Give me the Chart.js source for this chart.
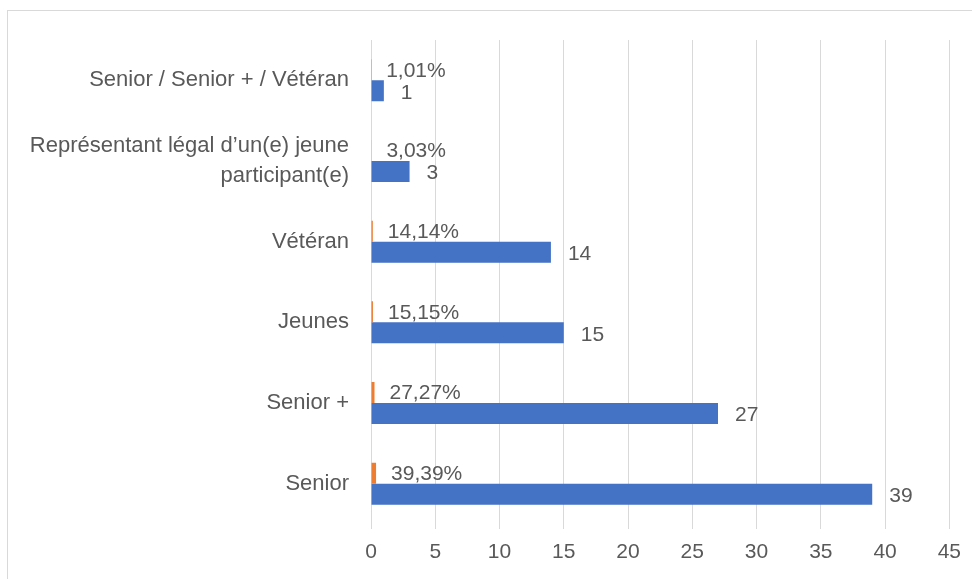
<!DOCTYPE html>
<html>
<head>
<meta charset="utf-8">
<script src="https://cdn.jsdelivr.net/npm/chart.js@4/dist/chart.umd.min.js"></script>
<style>
html,body{margin:0;padding:0;background:#fff;}
#wrap{position:relative;width:972px;height:579px;}
</style>
</head>
<body>
<div id="wrap"><canvas id="c" width="972" height="579"></canvas></div>
<script>
const categories = [
  "Senior / Senior + / Vétéran",
  ["Représentant légal d’un(e) jeune", "participant(e)"],
  "Vétéran",
  "Jeunes",
  "Senior +",
  "Senior"
];
const counts = [1, 3, 14, 15, 27, 39];
const shares = [0.0101, 0.0303, 0.1414, 0.1515, 0.2727, 0.3939];
const xMin = 0, xMax = 45, xStep = 5;

const FONT = "'Liberation Sans', Arial, sans-serif";
const TEXT = '#595959';

const borderPlugin = {
  id: 'outerBorder',
  beforeDraw(chart) {
    const ctx = chart.ctx;
    ctx.save();
    ctx.fillStyle = '#fff';
    ctx.fillRect(0, 0, chart.width, chart.height);
    ctx.strokeStyle = '#d9d9d9';
    ctx.lineWidth = 1;
    ctx.strokeRect(7.5, 10.5, 1200, 1200);
    ctx.restore();
  }
};

const labelPlugin = {
  id: 'valueLabels',
  afterDatasetsDraw(chart) {
    const ctx = chart.ctx;
    ctx.save();
    ctx.font = '21px ' + FONT;
    ctx.fillStyle = TEXT;
    ctx.textAlign = 'left';
    ctx.textBaseline = 'middle';
    const m0 = chart.getDatasetMeta(0);
    m0.data.forEach((el, i) => {
      const v = chart.data.datasets[0].data[i];
      const t = (v * 100).toFixed(2).replace('.', ',') + '%';
      ctx.fillText(t, el.x + 15, el.y + 1);
    });
    const m1 = chart.getDatasetMeta(1);
    m1.data.forEach((el, i) => {
      const v = chart.data.datasets[1].data[i];
      ctx.fillText(String(v), el.x + 17, el.y + 2);
    });
    ctx.restore();
  }
};

new Chart(document.getElementById('c'), {
  type: 'bar',
  data: {
    labels: categories,
    datasets: [
      { label: 'Pourcentage', data: shares, backgroundColor: '#ED7D31', borderWidth: 0,
        categoryPercentage: 0.52, barPercentage: 1 },
      { label: 'Nombre', data: counts, backgroundColor: '#4472C4', borderWidth: 0,
        categoryPercentage: 0.52, barPercentage: 1 }
    ]
  },
  options: {
    indexAxis: 'y',
    responsive: false,
    animation: false,
    layout: { padding: { top: 40, right: 22, left: 0, bottom: 0 } },
    plugins: { legend: { display: false }, tooltip: { enabled: false } },
    scales: {
      x: {
        min: xMin, max: xMax,
        ticks: { stepSize: xStep, color: TEXT, font: { family: FONT, size: 21 }, padding: 11 },
        grid: { color: '#d9d9d9', lineWidth: 1, tickLength: 5, drawTicks: true },
        border: { display: false },
        afterFit(s) { s.height = 55; }
      },
      y: {
        ticks: { color: TEXT, font: { family: FONT, size: 22, lineHeight: 1.35 }, padding: 22 },
        grid: { display: false, drawTicks: false },
        border: { display: false },
        afterFit(s) { s.width = 371; }
      }
    }
  },
  plugins: [borderPlugin, labelPlugin]
});
</script>
</body>
</html>
